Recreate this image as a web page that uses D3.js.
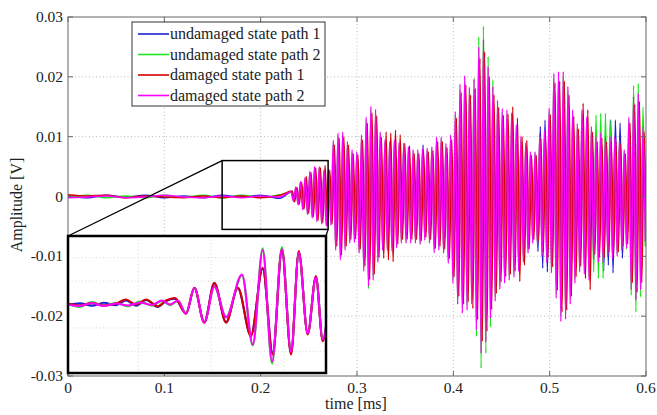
<!DOCTYPE html>
<html>
<head>
<meta charset="utf-8">
<script src="https://cdnjs.cloudflare.com/ajax/libs/d3/7.8.5/d3.min.js"></script>
<style>
body { margin: 0; background: #fff; }
</style>
</head>
<body>
<div id="graph"></div>
<script>
// amplitudes are in mV, times in ms
var seriesNames = ['undamaged state path 1', 'undamaged state path 2', 'damaged state path 1', 'damaged state path 2'];
var seriesColors = ['#1f1fd6', '#1ee61e', '#d40000', '#ff00ff'];

var xTicks = [0, 0.1, 0.2, 0.3, 0.4, 0.5, 0.6];
var yTicks = [-0.03, -0.02, -0.01, 0, 0.01, 0.02, 0.03];

// quiet part before the wave packet arrives
var noiseTimes = [0, 0.02, 0.04, 0.06, 0.08, 0.1, 0.12, 0.14, 0.16, 0.18, 0.2, 0.22];
var noiseBlue = [0.1, -0.2, 0.2, -0.1, 0.2, -0.2, 0.1, -0.2, 0.2, -0.1, 0.2, -0.3];
var noiseGreen = [-0.1, 0.2, -0.2, 0.1, -0.2, 0.2, -0.1, 0.2, -0.2, 0.2, -0.1, 0.3];
var noiseRed = [0.3, 0.1, 0.2, -0.2, 0.1, -0.1, -0.2, 0.1, -0.2, 0.1, -0.2, 0.2];
var noiseMagenta = [-0.2, -0.1, 0.1, -0.2, -0.1, 0.2, -0.1, -0.2, 0.1, -0.2, 0.1, -0.1];

// wave packet: one max and one min per cycle
var burstStart = 0.2316;
var burstPeriod = 0.00487;
var burstShift = [0.0006, 0, 0.0012, 0];

var upBlue = [0.8, 1.4, 2.3, 3.0, 3.9, 4.6, 4.6, 4.2, 4.2,
  8.5, 9.6, 9.8, 8.3, 7.0, 6.8, 9.3, 12.0, 13.6, 13.2,
  9.8, 8.6, 8.3, 8.6, 8.1, 8.0, 7.5, 7.0, 7.0, 8.6,
  7.3, 7.5, 9.0, 9.0, 8.0, 9.3, 12.8, 17.0, 18.2, 16.5,
  17.7, 22.5, 23.6, 19.6, 16.6, 14.5, 13.3, 13.1, 12.6, 10.8,
  9.1, 8.1, 6.8, 6.8, 11.7, 12.8, 13.4, 18.6, 18.9, 18.9,
  16.6, 13.1, 11.0, 13.1, 12.0, 10.5, 9.0, 9.6, 9.0, 12.8,
  12.8, 12.3, 7.0, 12.0, 15.0, 15.5, 10.5];
var loBlue = [-0.8, -1.2, -2.0, -2.7, -3.3, -3.8, -4.2, -4.5, -4.3,
  -8.1, -9.6, -8.1, -7.0, -6.9, -8.6, -11.3, -13.5, -12.6, -9.9,
  -8.1, -8.1, -8.2, -7.7, -7.0, -7.0, -7.0, -7.0, -7.2, -6.6,
  -7.0, -8.5, -8.1, -8.6, -10.1, -13.1, -16.2, -17.6, -17.1, -16.2,
  -20.1, -23.6, -21.9, -18.4, -15.8, -14.0, -13.1, -12.6, -12.2, -11.3,
  -9.9, -8.6, -7.0, -9.2, -12.0, -12.6, -11.5, -15.3, -18.8, -18.5,
  -16.2, -13.1, -11.3, -11.7, -12.6, -9.5, -9.9, -12.5, -11.5, -12.8,
  -9.0, -10.3, -7.7, -14.0, -15.6, -14.0, -6.8];

var upGreen = [0.7, 1.5, 2.3, 3.0, 4.0, 4.7, 4.8, 4.2, 4.4,
  9.0, 10.2, 10.4, 8.8, 7.5, 7.2, 9.9, 12.8, 14.6, 14.0,
  10.4, 9.1, 8.8, 9.1, 8.6, 8.5, 8.0, 7.5, 7.5, 7.7,
  7.8, 8.0, 9.6, 9.6, 8.5, 9.9, 13.6, 18.0, 19.4, 17.6,
  19.8, 26.7, 28.5, 23.4, 19.5, 15.5, 14.1, 13.9, 13.4, 11.5,
  9.7, 8.6, 7.2, 7.2, 10.1, 10.6, 14.2, 19.8, 20.1, 20.1,
  17.7, 13.9, 11.7, 13.9, 12.8, 11.2, 13.6, 13.9, 13.9, 12.8,
  9.6, 9.1, 7.5, 12.8, 18.6, 18.9, 15.0];
var loGreen = [-0.7, -1.3, -2.1, -2.9, -3.5, -4.0, -4.4, -4.8, -4.6,
  -8.6, -10.2, -8.6, -7.5, -7.4, -9.1, -12.0, -15.4, -13.4, -10.6,
  -8.6, -8.6, -8.7, -8.3, -7.5, -7.5, -7.5, -7.5, -7.7, -7.0,
  -7.5, -9.0, -8.6, -9.1, -10.8, -13.9, -17.3, -18.7, -18.2, -17.3,
  -23.4, -28.7, -26.2, -21.8, -16.8, -14.9, -13.9, -13.4, -13.0, -12.0,
  -10.6, -9.1, -7.5, -7.7, -9.6, -10.6, -12.3, -16.3, -20.1, -19.7,
  -17.3, -13.9, -12.1, -12.5, -13.4, -12.6, -13.7, -13.7, -9.6, -9.9,
  -9.6, -8.6, -8.8, -16.5, -19.3, -16.8, -8.4];

var upRed = [0.9, 1.5, 2.4, 3.3, 4.0, 4.8, 4.8, 5.2, 4.4,
  8.6, 9.8, 10.0, 8.6, 7.2, 7.0, 9.5, 12.3, 14.0, 13.5,
  10.0, 10.8, 10.6, 11.1, 10.3, 8.9, 8.5, 7.2, 7.2, 7.4,
  7.5, 7.7, 9.2, 9.2, 8.2, 9.5, 13.1, 17.4, 18.7, 17.0,
  18.1, 23.1, 24.2, 20.1, 17.0, 14.9, 13.6, 13.8, 15.0, 13.1,
  10.0, 9.4, 6.9, 6.9, 9.7, 10.2, 13.7, 19.0, 19.3, 19.3,
  17.0, 13.4, 11.3, 15.6, 14.5, 10.8, 9.2, 9.8, 9.2, 9.2,
  9.2, 8.8, 7.2, 12.3, 15.4, 15.9, 10.8];
var loRed = [-0.9, -1.3, -2.1, -2.8, -3.4, -4.0, -4.4, -4.8, -4.6,
  -8.3, -9.8, -8.3, -7.2, -7.1, -8.8, -11.6, -13.9, -13.0, -10.2,
  -10.3, -10.6, -10.9, -8.0, -7.2, -7.2, -7.2, -7.2, -7.4, -6.8,
  -7.2, -8.7, -8.3, -8.8, -10.4, -13.4, -16.7, -18.0, -17.6, -18.7,
  -20.6, -24.2, -22.5, -18.9, -16.2, -14.3, -13.4, -13.0, -12.5, -14.2,
  -11.5, -8.8, -7.2, -7.4, -9.3, -10.2, -11.8, -15.7, -19.3, -19.0,
  -16.7, -13.4, -11.7, -13.7, -15.6, -9.7, -10.2, -10.2, -9.3, -9.5,
  -9.3, -8.3, -8.0, -14.4, -16.0, -14.4, -6.9];

var upMagenta = [0.8, 1.6, 2.5, 3.2, 4.2, 5.0, 5.0, 4.4, 4.6,
  9.4, 10.6, 10.8, 9.2, 7.8, 7.5, 10.3, 13.3, 15.1, 14.6,
  10.8, 9.5, 9.2, 9.5, 9.0, 8.9, 8.3, 7.8, 7.8, 8.0,
  8.1, 8.3, 10.0, 10.0, 8.9, 10.3, 14.2, 18.8, 20.2, 18.3,
  19.6, 25.0, 26.2, 21.7, 18.4, 16.1, 14.7, 14.5, 14.0, 12.0,
  10.1, 9.0, 7.5, 7.5, 10.5, 11.0, 14.8, 20.6, 20.9, 20.9,
  18.4, 14.5, 12.2, 14.5, 13.3, 11.7, 10.0, 10.6, 10.0, 10.0,
  10.0, 9.5, 7.8, 13.3, 16.7, 17.2, 11.7];
var loMagenta = [-0.8, -1.4, -2.2, -3.0, -3.6, -4.2, -4.6, -5.0, -4.8,
  -9.0, -10.6, -9.0, -7.8, -7.7, -9.5, -12.5, -15.0, -14.0, -11.0,
  -9.0, -9.0, -9.1, -8.6, -7.8, -7.8, -7.8, -7.8, -8.0, -7.3,
  -7.8, -9.4, -9.0, -9.5, -11.2, -14.5, -18.0, -19.5, -19.0, -18.0,
  -22.3, -26.2, -24.3, -20.4, -17.5, -15.5, -14.5, -14.0, -13.5, -12.5,
  -11.0, -9.5, -7.8, -8.0, -10.0, -11.0, -12.8, -17.0, -20.9, -20.5,
  -18.0, -14.5, -12.6, -13.0, -14.0, -10.5, -11.0, -11.0, -10.0, -10.3,
  -10.0, -9.0, -8.6, -15.6, -17.3, -15.6, -7.5];

// zoomed window shown in the inset
var zoomT = [0.16, 0.27];
var zoomV = [-0.0055, 0.006];
var insetV = [-5.85, 5.85];
var insetGridT = [0.19, 0.221, 0.252];
var insetGridV = [-4, -2, 0, 2, 4];

var insetTimesPath1 = [0.1600, 0.1651, 0.1702, 0.1753, 0.1805, 0.1847, 0.1890, 0.1933, 0.1982, 0.2018,
  0.2056, 0.2103, 0.2139, 0.2181, 0.2224, 0.2274, 0.2324, 0.2380, 0.2430, 0.2473,
  0.2512, 0.2551, 0.2584, 0.2622, 0.2657, 0.2686, 0.2717];
var insetTimesPath2 = [0.1600, 0.1651, 0.1702, 0.1753, 0.1805, 0.1856, 0.1907, 0.1958, 0.2001, 0.2035,
  0.2069, 0.2103, 0.2139, 0.2181, 0.2224, 0.2274, 0.2342, 0.2388, 0.2430, 0.2470,
  0.2512, 0.2551, 0.2584, 0.2622, 0.2657, 0.2686, 0.2717];
var insetBlue = [-0.05, 0.1, -0.1, 0.15, -0.05, 0.35, -0.1, 0.38, -0.2, 0.3, 0.5, -0.75, 1.4, -1.5,
  1.8, -1.5, 1.4, -2.6, 3.05, -4.15, 4.6, -4.15, 4.45, -2.5, 2.35, -3.05, 1.0];
var insetGreen = [0.05, -0.2, 0.2, -0.1, 0.15, -0.15, 0.25, -0.1, 0.3, -0.05, 0.3, -0.75, 1.4, -1.5,
  1.5, -1.05, 2.5, -3.5, 4.79, -5.04, 4.91, -3.95, 4.35, -2.4, 2.25, -2.9, 1.1];
var insetRed = [0.09, -0.09, 0.13, -0.09, 0.09, 0.43, 0, 0.43, -0.15, 0.34, 0.56, -0.79, 1.43, -1.56,
  1.85, -1.56, 1.43, -2.71, 3.14, -4.27, 4.7, -4.27, 4.56, -2.56, 2.42, -3.14, 1.03];
var insetMagenta = [0, -0.13, 0.13, -0.13, 0.09, -0.09, 0.17, -0.04, 0.34, 0, 0.34, -0.79, 1.43, -1.56,
  1.56, -1.09, 2.56, -3.42, 4.66, -4.87, 4.74, -4.02, 4.44, -2.48, 2.31, -2.99, 1.2];

var noiseList = [noiseBlue, noiseGreen, noiseRed, noiseMagenta];
var upList = [upBlue, upGreen, upRed, upMagenta];
var loList = [loBlue, loGreen, loRed, loMagenta];
var insetList = [insetBlue, insetGreen, insetRed, insetMagenta];
var insetTimesList = [insetTimesPath1, insetTimesPath2, insetTimesPath1, insetTimesPath2];

var W = 657, H = 415;
var FONT = 'Liberation Serif';
var plot = { left: 68, right: 646, top: 17, bottom: 376 };
var inset = { left: 68, right: 326, top: 236, bottom: 373 };

var svg = d3.select('#graph').append('svg').attr('width', W).attr('height', H);

var x = d3.scaleLinear().domain([0, 0.6]).range([plot.left, plot.right]);
var y = d3.scaleLinear().domain([-0.03, 0.03]).range([plot.bottom, plot.top]);

svg.append('clipPath').attr('id', 'clipMain').append('rect')
  .attr('x', plot.left).attr('y', plot.top)
  .attr('width', plot.right - plot.left).attr('height', plot.bottom - plot.top);
svg.append('clipPath').attr('id', 'clipInset').append('rect')
  .attr('x', inset.left).attr('y', inset.top)
  .attr('width', inset.right - inset.left).attr('height', inset.bottom - inset.top);

// grid
var grid = svg.append('g').attr('stroke', '#aaa').attr('stroke-width', 0.8).attr('stroke-dasharray', '1,2.5');
grid.selectAll('.gx').data(xTicks.slice(1, -1)).enter().append('line')
  .attr('x1', d => x(d)).attr('x2', d => x(d)).attr('y1', plot.top).attr('y2', plot.bottom);
grid.selectAll('.gy').data(yTicks.slice(1, -1)).enter().append('line')
  .attr('y1', d => y(d)).attr('y2', d => y(d)).attr('x1', plot.left).attr('x2', plot.right);

// main signals
var line = d3.line().x(d => x(d[0])).y(d => y(d[1])).curve(d3.curveMonotoneX);
var sig = svg.append('g').attr('clip-path', 'url(#clipMain)');
seriesNames.forEach(function(name, s) {
  var pts = noiseTimes.map((t, i) => [t, noiseList[s][i] / 1000]);
  upList[s].forEach(function(v, j) {
    var t = burstStart + burstShift[s] + j * burstPeriod;
    pts.push([t, v / 1000]);
    pts.push([t + burstPeriod / 2, loList[s][j] / 1000]);
  });
  sig.append('path').datum(pts)
    .attr('fill', 'none').attr('stroke', seriesColors[s]).attr('stroke-width', 1.5)
    .attr('d', line);
});

// axes box and ticks
var axes = svg.append('g').attr('stroke', '#666').attr('stroke-width', 1);
axes.append('rect').attr('x', plot.left).attr('y', plot.top)
  .attr('width', plot.right - plot.left).attr('height', plot.bottom - plot.top).attr('fill', 'none');
xTicks.forEach(function(t) {
  axes.append('line').attr('x1', x(t)).attr('x2', x(t)).attr('y1', plot.bottom).attr('y2', plot.bottom - 5);
  axes.append('line').attr('x1', x(t)).attr('x2', x(t)).attr('y1', plot.top).attr('y2', plot.top + 5);
});
yTicks.forEach(function(v) {
  axes.append('line').attr('y1', y(v)).attr('y2', y(v)).attr('x1', plot.left).attr('x2', plot.left + 5);
  axes.append('line').attr('y1', y(v)).attr('y2', y(v)).attr('x1', plot.right).attr('x2', plot.right - 5);
});

svg.selectAll('.xl').data(xTicks).enter().append('text')
  .attr('x', d => x(d)).attr('y', plot.bottom + 17)
  .attr('text-anchor', 'middle').attr('font-family', FONT).attr('font-size', 15.5)
  .attr('fill', '#222').text(d => String(d));
svg.selectAll('.yl').data(yTicks).enter().append('text')
  .attr('x', plot.left - 5).attr('y', d => y(d) + 5)
  .attr('text-anchor', 'end').attr('font-family', FONT).attr('font-size', 15.5)
  .attr('fill', '#222').text(d => String(d));

svg.append('text').attr('x', 356).attr('y', 409).attr('text-anchor', 'middle')
  .attr('font-family', FONT).attr('font-size', 16).attr('fill', '#222').text('time [ms]');
svg.append('text').attr('transform', 'translate(22,205) rotate(-90)').attr('text-anchor', 'middle')
  .attr('font-family', FONT).attr('font-size', 16).attr('fill', '#222').text('Amplitude [V]');

// zoom window and connectors
var zoomBox = svg.append('g').attr('stroke', '#000').attr('fill', 'none');
zoomBox.append('rect').attr('x', x(zoomT[0])).attr('y', y(zoomV[1]))
  .attr('width', x(zoomT[1]) - x(zoomT[0])).attr('height', y(zoomV[0]) - y(zoomV[1]))
  .attr('stroke-width', 1.5);
zoomBox.append('line').attr('x1', x(zoomT[0])).attr('y1', y(zoomV[1]))
  .attr('x2', inset.left).attr('y2', inset.top).attr('stroke-width', 1.3);
zoomBox.append('line').attr('x1', x(zoomT[1])).attr('y1', y(zoomV[0]))
  .attr('x2', inset.right).attr('y2', inset.top).attr('stroke-width', 1.3);

// inset
var ix = d3.scaleLinear().domain(zoomT).range([inset.left, inset.right]);
var iy = d3.scaleLinear().domain(insetV).range([inset.bottom, inset.top]);
svg.append('rect').attr('x', inset.left).attr('y', inset.top)
  .attr('width', inset.right - inset.left).attr('height', inset.bottom - inset.top).attr('fill', '#fff');
var ig = svg.append('g').attr('clip-path', 'url(#clipInset)');
var igrid = ig.append('g').attr('stroke', '#ccc').attr('stroke-width', 0.8).attr('stroke-dasharray', '1,2.5');
igrid.selectAll('.igx').data(insetGridT).enter().append('line')
  .attr('x1', d => ix(d)).attr('x2', d => ix(d)).attr('y1', inset.top).attr('y2', inset.bottom);
igrid.selectAll('.igy').data(insetGridV).enter().append('line')
  .attr('y1', d => iy(d)).attr('y2', d => iy(d)).attr('x1', inset.left).attr('x2', inset.right);
var iline = d3.line().x(d => ix(d[0])).y(d => iy(d[1])).curve(d3.curveMonotoneX);
seriesNames.forEach(function(name, s) {
  var pts = insetTimesList[s].map((t, i) => [t, insetList[s][i]]);
  ig.append('path').datum(pts)
    .attr('fill', 'none').attr('stroke', seriesColors[s]).attr('stroke-width', 2.1)
    .attr('d', iline);
});
svg.append('rect').attr('x', inset.left).attr('y', inset.top)
  .attr('width', inset.right - inset.left).attr('height', inset.bottom - inset.top)
  .attr('fill', 'none').attr('stroke', '#000').attr('stroke-width', 2.5);

// legend
var legend = svg.append('g').attr('transform', 'translate(132,22)');
legend.append('rect').attr('width', 193).attr('height', 84)
  .attr('fill', '#fff').attr('stroke', '#333').attr('stroke-width', 1);
seriesNames.forEach(function(name, s) {
  var ry = 12 + s * 20.5;
  legend.append('line').attr('x1', 6).attr('x2', 37).attr('y1', ry).attr('y2', ry)
    .attr('stroke', seriesColors[s]).attr('stroke-width', 1.6);
  legend.append('text').attr('x', 38).attr('y', ry + 5)
    .attr('font-family', FONT).attr('font-size', 16).attr('fill', '#222').text(name);
});
</script>
</body>
</html>
